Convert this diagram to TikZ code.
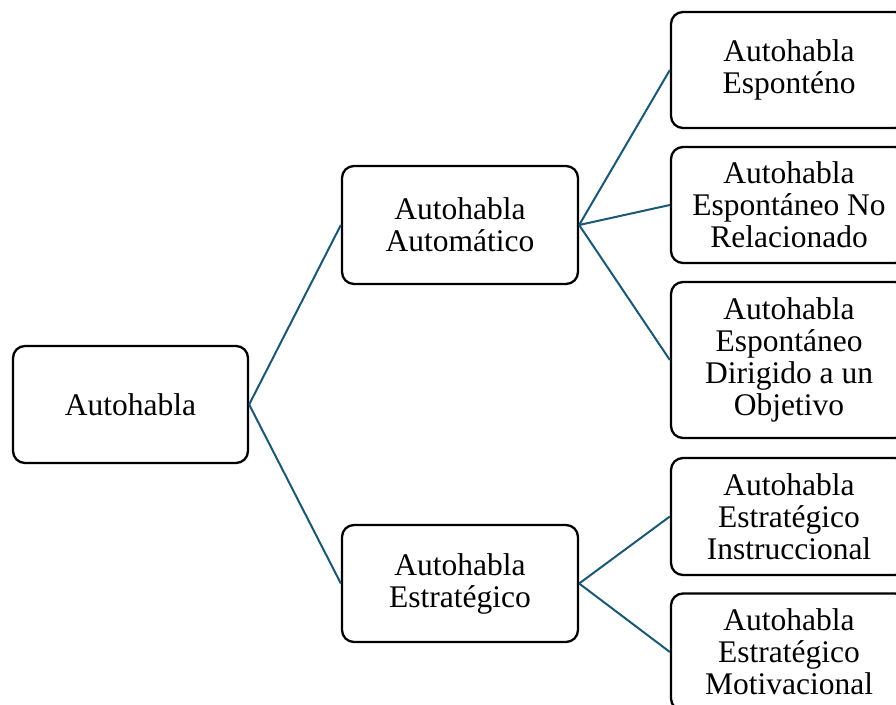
\documentclass[tikz,border=0pt]{standalone}
\usepackage{fontspec}
\setmainfont{Liberation Serif}
\usepackage{tikz}
\usetikzlibrary{positioning}
\definecolor{linkblue}{HTML}{1A5875}
\tikzset{
  caja/.style={draw, line width=2.3pt, rounded corners=12pt, fill=white,
    minimum width=236pt, align=center, inner sep=2pt,
    font=\fontsize{31.5}{32}\selectfont},
  link/.style={draw=linkblue, line width=2pt}
}

\begin{document}
\begin{tikzpicture}[x=1pt, y=1pt]
\useasboundingbox (0,0) rectangle (896,704);
\node[caja, minimum width=235pt, minimum height=117pt] (auto) at (130.5,299.5) {Autohabla};
\node[caja, minimum height=118pt] (autom) at (460,479) {Autohabla\\Automático};
\node[caja, minimum height=117pt] (estra) at (460,120.5) {Autohabla\\Estratégico};
\node[caja, minimum height=116pt] (espo) at (789,634) {Autohabla\\Esponténo};
\node[caja, minimum height=116pt] (nore) at (789,499) {Autohabla\\Espontáneo No\\Relacionado};
\node[caja, minimum height=156pt] (diri) at (789,344) {Autohabla\\Espontáneo\\Dirigido a un\\Objetivo};
\node[caja, minimum height=117pt] (inst) at (789,187.5) {Autohabla\\Estratégico\\Instruccional};
\node[caja, minimum height=117pt] (moti) at (789,52) {Autohabla\\Estratégico\\Motivacional};
\foreach \a/\b in {auto/autom, auto/estra, autom/espo, autom/nore, autom/diri, estra/inst, estra/moti}
{
    \draw[link] (\a.east) -- (\b.west);
}
\end{tikzpicture}
\end{document}
